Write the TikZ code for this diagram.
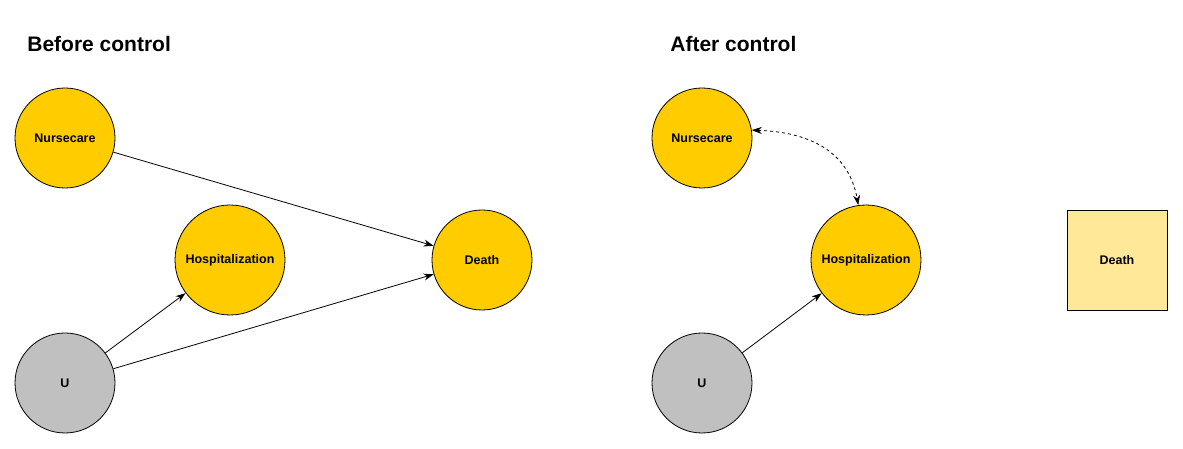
\documentclass[tikz,border=0pt]{standalone}
\usepackage{fontspec}
\setmainfont{Liberation Sans}
\usepackage{tikz}
\usetikzlibrary{positioning,calc,arrows.meta}
\definecolor{varfill}{HTML}{FFCC00}
\definecolor{latentfill}{HTML}{C0C0C0}
\definecolor{ctrlfill}{HTML}{FFE999}

\begin{document}
\begin{tikzpicture}[
      x=1pt,y=1pt,
      >={Stealth[length=10pt,width=7pt]},
      every node/.style={draw=black,line width=0.8pt,circle,fill=varfill,minimum size=100pt,inner sep=0pt,font=\fontsize{12.5}{14}\selectfont\bfseries},
      latent/.style={fill=latentfill},
      bignode/.style={minimum size=110pt},
      ctrlbox/.style={rectangle,fill=ctrlfill,minimum size=100pt},
      title/.style={draw=none,fill=none,rectangle,minimum size=0pt,anchor=base west,font=\fontsize{21}{24}\selectfont\bfseries},
      ]
      \useasboundingbox (0,0) rectangle (1183,449);
      % before control
      \node[title] (beforeT) at (27,397) {Before control};
      \node (beforeN) at (65,311) {Nursecare};
      \node[bignode] (beforeH) at (230,189) {Hospitalization};
      \node (beforeD) at (482,189) {Death};
      \node[latent] (beforeU) at (65,66) {U};
      % after control
      \node[title] (afterT) at (670,397) {After control};
      \node (afterN) at (702,311) {Nursecare};
      \node[bignode] (afterH) at (866,189) {Hospitalization};
      \node[ctrlbox] (afterD) at (1117,189) {Death};
      \node[latent] (afterU) at (702,66) {U};
      \path[->,line width=0.8pt]
      (beforeN) edge (beforeD)
      (beforeU) edge (beforeH)
      (beforeU) edge (beforeD)
      (afterU) edge (afterH);
      \path[<->,dashed,line width=0.8pt]
      (afterN.9) edge[out=-2,in=100,looseness=1.1] (afterH.98);
    \end{tikzpicture}
\end{document}
